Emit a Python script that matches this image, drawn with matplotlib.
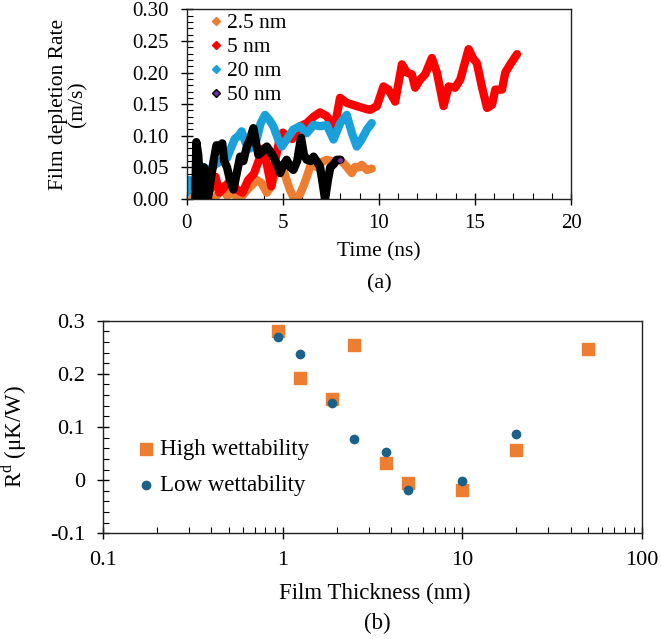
import matplotlib
matplotlib.use('Agg')
import matplotlib.pyplot as plt
from matplotlib.lines import Line2D
from matplotlib.ticker import MultipleLocator, LogLocator, NullFormatter, FixedLocator, FormatStrFormatter

plt.rcParams['font.family'] = 'Liberation Serif'
plt.rcParams['mathtext.fontset'] = 'custom'
plt.rcParams['mathtext.rm'] = 'Liberation Serif'

# (a) film depletion rate vs time
t_25 = [0.3, 0.5, 0.8, 1.1, 1.4, 1.7, 1.9, 2.1, 2.4, 2.7, 2.9, 3.13, 3.4, 3.64, 3.9, 4.17,
        4.4, 4.6, 4.8, 5.03, 5.2, 5.38, 5.55, 5.73, 5.9, 6.07, 6.25, 6.42, 6.6, 6.8, 7.0,
        7.29, 7.64, 7.99, 8.33, 8.59, 8.77, 8.95, 9.11, 9.38, 9.63]
v_25 = [0.0, 0.01, 0.0, 0.005, 0.0, 0.01, 0.02, 0.005, 0.01, 0.0, 0.005, 0.014, 0.022, 0.03,
        0.025, 0.01, 0.02, 0.04, 0.05, 0.046, 0.03, 0.014, 0.003, 0.0, 0.008, 0.02, 0.035,
        0.051, 0.055, 0.05, 0.058, 0.062, 0.059, 0.062, 0.051, 0.041, 0.051, 0.05, 0.054,
        0.046, 0.048]

t_5 = [0.45, 0.7, 1.0, 1.3, 1.5, 1.7, 2.0, 2.3, 2.6, 2.9, 3.2, 3.5, 3.8, 4.0, 4.2, 4.4, 4.6,
       4.8, 5.0, 5.2, 5.5, 5.9, 6.25, 6.6, 6.94, 7.29, 7.64, 7.8, 7.98, 8.33, 8.85, 9.38,
       9.55, 9.9, 10.24, 10.5, 10.85, 11.2, 11.46, 11.72, 11.89, 12.15, 12.41, 12.76, 13.02,
       13.37, 13.63, 13.97, 14.24, 14.67, 14.93, 15.1, 15.36, 15.63, 15.89, 16.06, 16.41,
       16.58, 16.84, 17.19]
v_5 = [0.0, 0.005, 0.0, 0.02, 0.035, 0.01, 0.02, 0.03, 0.015, 0.01, 0.03, 0.04, 0.065, 0.08,
       0.05, 0.02, 0.06, 0.09, 0.105, 0.1, 0.095, 0.115, 0.12, 0.13, 0.137, 0.131, 0.115,
       0.13, 0.16, 0.152, 0.147, 0.142, 0.141, 0.147, 0.178, 0.173, 0.154, 0.213, 0.2, 0.197,
       0.176, 0.189, 0.197, 0.223, 0.2, 0.147, 0.178, 0.176, 0.189, 0.237, 0.221, 0.215,
       0.178, 0.144, 0.149, 0.173, 0.173, 0.2, 0.213, 0.229]

t_20 = [0.0, 0.15, 0.35, 0.6, 0.9, 1.2, 1.5, 1.8, 2.1, 2.3, 2.5, 2.7, 2.86, 3.05, 3.3, 3.64,
        3.85, 4.08, 4.3, 4.51, 4.75, 4.95, 5.2, 5.55, 5.9, 6.25, 6.6, 6.94, 7.29, 7.64, 7.99,
        8.33, 8.6, 8.85, 9.1, 9.38, 9.63]
v_20 = [0.01, 0.03, 0.02, 0.04, 0.05, 0.045, 0.055, 0.06, 0.065, 0.08, 0.095, 0.1, 0.107,
        0.09, 0.08, 0.094, 0.12, 0.133, 0.125, 0.115, 0.095, 0.083, 0.094, 0.11, 0.115,
        0.104, 0.117, 0.115, 0.117, 0.094, 0.12, 0.133, 0.104, 0.083, 0.094, 0.11, 0.12]

t_50 = [0.45, 0.5, 0.6, 0.7, 0.8, 0.9, 1.0, 1.1, 1.25, 1.4, 1.55, 1.7, 1.85, 1.95, 2.1, 2.25,
        2.43, 2.6, 2.78, 2.95, 3.13, 3.3, 3.47, 3.6, 3.73, 3.95, 4.17, 4.35, 4.51, 4.7, 4.86,
        5.05, 5.2, 5.4, 5.55, 5.75, 5.95, 6.1, 6.25, 6.45, 6.6, 6.8, 6.94, 7.05, 7.2, 7.35,
        7.47, 7.65, 7.81, 8.0]
v_50 = [0.0, 0.09, 0.07, 0.02, 0.0, 0.05, 0.02, 0.0, 0.03, 0.06, 0.085, 0.08, 0.088, 0.06,
        0.05, 0.03, 0.015, 0.04, 0.067, 0.06, 0.083, 0.095, 0.112, 0.09, 0.07, 0.075, 0.083,
        0.075, 0.067, 0.055, 0.041, 0.055, 0.062, 0.05, 0.046, 0.06, 0.097, 0.07, 0.062, 0.06,
        0.067, 0.058, 0.051, 0.03, 0.0, 0.03, 0.05, 0.055, 0.062, 0.062]

labels_a = ['2.5 nm', '5 nm', '20 nm', '50 nm']
colors_a = ['#ED7D31', '#FF0000', '#1BA1DA', '#000000']

# (b) Rd vs film thickness
thick_high = [0.94, 1.25, 1.875, 2.5, 3.75, 5, 10, 20, 50]
rd_high = [0.281, 0.192, 0.152, 0.255, 0.032, -0.006, -0.018, 0.056, 0.247]
thick_low = [0.94, 1.25, 1.875, 2.5, 3.75, 5, 10, 20]
rd_low = [0.269, 0.238, 0.145, 0.077, 0.053, -0.019, -0.002, 0.087]

W, H = 661, 639
fig = plt.figure(figsize=(W / 100, H / 100), dpi=100)


def px(x, y):
    return x / W, 1 - y / H


# ---- panel (a)
ax1 = fig.add_axes([186.7 / W, 1 - 199 / H, 384.3 / W, 189.7 / H])
series = [(t_25, v_25), (t_5, v_5), (t_20, v_20), (t_50, v_50)]
for (t, v), c in zip(series, colors_a):
    ax1.plot(t, v, color=c, lw=6, solid_joinstyle='round', solid_capstyle='round')
ax1.plot(t_50[-1:], v_50[-1:], 'D', ms=2.5, color='#7030A0')
ax1.set_xlim(0, 20)
ax1.set_ylim(0, 0.30)
ax1.xaxis.set_major_locator(MultipleLocator(5))
ax1.xaxis.set_minor_locator(MultipleLocator(1))
ax1.yaxis.set_major_locator(MultipleLocator(0.05))
ax1.yaxis.set_minor_locator(MultipleLocator(0.01))
ax1.yaxis.set_major_formatter(FormatStrFormatter('%.2f'))
ax1.tick_params(which='major', direction='inout', length=8, width=1, labelsize=15)
ax1.tick_params(which='minor', direction='in', length=4, width=0.8)
ax1.tick_params(axis='x', pad=7)
ax1.tick_params(axis='y', pad=9)
handles = []
for lab, c in zip(labels_a, colors_a):
    fc = '#7030A0' if c == '#000000' else c
    handles.append(Line2D([], [], ls='none', marker='D', ms=4, mfc=fc, mec=c, label=lab))
ax1.legend(handles=handles, loc='center left', bbox_to_anchor=(0.062, 0.737), frameon=False,
           fontsize=15.5, handlelength=0.5, handletextpad=0.25, labelspacing=0.18,
           borderaxespad=0, borderpad=0)
fig.text(*px(68.5, 104), 'Film depletion Rate\n(m/s)', rotation=90, ha='center', va='center',
         fontsize=15.5, linespacing=1.05)
fig.text(*px(379, 252), 'Time (ns)', ha='center', va='center', fontsize=15.5)
fig.text(*px(379, 284), '(a)', ha='center', va='center', fontsize=16)

# ---- panel (b)
ax2 = fig.add_axes([103.3 / W, 1 - 533.3 / H, 538.7 / W, 212.6 / H])
ax2.scatter(thick_high, rd_high, marker='s', s=75, color='#ED7D31', label='High wettability', zorder=3)
ax2.scatter(thick_low, rd_low, marker='o', s=36, color='#1B6189', label='Low wettability', zorder=4)
ax2.set_xscale('log')
ax2.set_xlim(0.1, 100)
ax2.set_ylim(-0.1, 0.3)
ax2.xaxis.set_major_locator(FixedLocator([0.1, 1, 10, 100]))
ax2.set_xticklabels(['0.1', '1', '10', '100'])
ax2.xaxis.set_minor_locator(LogLocator(base=10, subs=range(2, 10)))
ax2.xaxis.set_minor_formatter(NullFormatter())
ax2.yaxis.set_minor_locator(MultipleLocator(0.02))
ax2.set_yticks([-0.1, 0, 0.1, 0.2, 0.3])
ax2.set_yticklabels(['-0.1', '0', '0.1', '0.2', '0.3'])
ax2.tick_params(which='major', direction='inout', length=8, width=1, labelsize=16)
ax2.tick_params(which='minor', direction='in', length=4, width=0.8)
ax2.tick_params(axis='x', pad=9)
ax2.tick_params(axis='y', pad=9)
ax2.legend(loc='center left', bbox_to_anchor=(0.0626, 0.31), frameon=False, fontsize=16.5,
           handlelength=0.8, handletextpad=0.2, labelspacing=0.65, scatterpoints=1,
           borderaxespad=0, borderpad=0)
fig.text(*px(14, 437), r'R$^{\mathrm{d}}$ ($\mathrm{\mu}$K/W)', rotation=90, ha='center',
         va='center', fontsize=16.5)
fig.text(*px(375, 593), 'Film Thickness (nm)', ha='center', va='center', fontsize=16.5)
fig.text(*px(377, 623), '(b)', ha='center', va='center', fontsize=16.5)

for ax in (ax1, ax2):
    for s in ax.spines.values():
        s.set_linewidth(1.0)
        s.set_color('#222222')

fig.savefig('out.png', dpi=100)
